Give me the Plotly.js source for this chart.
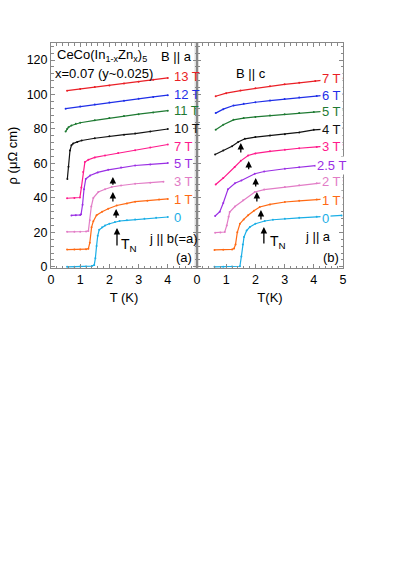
<!DOCTYPE html>
<html><head><meta charset="utf-8">
<script src="https://cdn.plot.ly/plotly-3.0.1.min.js"></script>
<style>html,body{margin:0;padding:0;background:#fff;}#plot{width:399px;height:564px;}</style>
</head><body><div id="plot"></div>
<script>
// ---------- Data: panel (a) B || a, j || b(=a) ----------
const fieldsA = ["0", "1 T", "3 T", "5 T", "7 T", "10 T", "11 T", "12 T", "13 T"];
const tA0  = [0.55,0.8,1.0,1.2,1.4,1.48,1.52,1.56,1.6,1.65,1.75,1.85,2.0,2.19,2.35,2.6,2.88,3.2,3.6,4.0];
const rA0  = [0,0,0.2,0.2,0.4,1,5,12,18,21.5,23,24,25,26,26.6,27,27.4,27.9,28.4,28.9];
const tA1  = [0.55,0.8,1.0,1.2,1.28,1.33,1.39,1.45,1.56,1.75,1.96,2.25,2.6,2.88,3.3,3.7,4.0];
const rA1  = [10,10,10.1,10.2,10.5,14,23,26.5,29.9,32,33.7,35.6,36.8,37.8,38.4,39,39.4];
const tA3  = [0.55,0.8,1.0,1.2,1.28,1.33,1.38,1.45,1.62,1.85,2.08,2.4,2.88,3.4,3.85];
const rA3  = [20.3,20.3,20.4,20.5,20.8,27,35,40,43.4,45,46.3,47.2,48.2,48.8,49.4];
const tA5  = [0.7,0.85,1.0,1.03,1.08,1.13,1.19,1.34,1.6,1.96,2.4,2.88,3.4,4.0];
const rA5  = [29.8,29.9,30.1,30.5,36,45,51,53,54.8,56.3,57.6,58.8,59.4,60.2];
const tA7  = [0.55,0.8,0.99,1.04,1.1,1.16,1.28,1.5,1.85,2.3,2.88,3.4,4.0];
const rA7  = [39.8,39.9,40.2,46,55,60.8,62.1,63.5,64.6,66,67.7,69.3,71];
const tA10 = [0.56,0.6,0.65,0.7,0.76,0.9,1.05,1.5,2.0,2.5,2.88,3.4,4.0];
const rA10 = [51,58,67.5,70.5,71.6,72.5,73.3,74.6,75.8,76.7,77.3,78.5,80];
const tA11 = [0.5,0.55,0.6,0.7,0.85,1.0,1.5,2.0,2.5,3.0,3.5,4.0];
const rA11 = [78.5,80,81,82,83,83.6,85,86.3,87.5,88.6,89.6,90.6];
const tA12 = [0.5,1.0,1.5,2.0,2.5,3.0,3.5,4.0];
const rA12 = [91.8,93,94.2,95.3,96.4,97.5,98.6,99.6];
const tA13 = [0.55,1.0,1.5,2.0,2.5,3.0,3.5,4.0];
const rA13 = [102.2,103.2,104.3,105.3,106.4,107.4,108.5,109.6];
const labelYA = [28.9,39.3,49.4,59.7,69.7,80,91,100.3,110.3];
// T_N arrows (a): T, tip, tail
const arrTA    = [2.26,2.23,2.12,2.12];
const arrTipA  = [22.5,33.5,43.4,52.1];
const arrTailA = [11.5,27.6,37.0,46.8];

// ---------- Data: panel (b) B || c, j || a ----------
const fieldsB = ["0", "1 T", "2 T", "2.5 T", "3 T", "4 T", "5 T", "6 T", "7 T"];
const tB0  = [0.6,0.9,1.2,1.47,1.52,1.57,1.61,1.7,1.81,2.0,2.32,2.6,3.01,3.5,4.1,4.5,4.95];
const rB0  = [0,0,0.1,0.3,6,13,17.3,21,23.1,25,26.6,27.3,27.9,28.4,29,29.4,29.8];
const tB1  = [0.6,0.9,1.2,1.27,1.32,1.38,1.47,1.6,1.75,1.95,2.15,2.5,3.01,3.5,4.1,4.5,4.95];
const rB1  = [9.8,9.9,10.1,10.6,13,20,25,27.5,29.9,32.5,34.7,36.2,37.6,38.3,39,39.5,40];
const tB2  = [0.62,0.8,0.95,1.02,1.08,1.12,1.3,1.58,1.98,2.3,3.01,3.5,4.1,4.95];
const rB2  = [19.8,19.9,20.2,24,29,31.8,35,38.6,43.4,44.8,46.3,47.3,48.5,50];
const tB25 = [0.62,0.78,0.9,1.06,1.3,1.52,1.98,2.3,3.01,3.5,4.05,4.95];
const rB25 = [29.5,32,37,45,48.5,50.1,54,55.3,56.9,57.8,58.7,60];
const tB3  = [0.64,0.9,1.29,1.5,1.75,2.0,2.5,3.01,3.5,4.1,4.95];
const rB3  = [47.8,51.5,57.9,61.5,64.6,65.8,67,68,68.8,69.6,70.8];
const tB4  = [0.62,0.9,1.2,1.41,1.64,2.0,2.5,3.01,3.5,4.0,4.95];
const rB4  = [65.2,67.5,70,72.4,74.3,75.3,76.2,76.9,78,79.5,80.5];
const tB5  = [0.64,0.9,1.25,1.6,2.0,2.5,3.0,3.5,4.0,4.95];
const rB5  = [79.5,82.5,85.3,86.3,87,87.8,88.5,89.2,89.8,91];
const tB6  = [0.64,0.9,1.25,1.6,2.0,2.5,3.0,3.5,4.1,4.95];
const rB6  = [89.2,91.5,93.6,94.6,95.5,96.5,97.4,98.2,99.2,100.5];
const tB7  = [0.64,1.0,1.49,2.0,2.5,3.0,3.5,4.05,4.95];
const rB7  = [99,100.8,102.3,103.6,104.8,105.9,106.8,107.8,109.5];
const labelYB = [28.1,38.4,49.6,59,69.7,79.8,90,99.7,109.4];
const arrTB    = [2.29,2.19,2.05,2.01,1.77,1.50];
const arrTipB  = [23.1,33,43.4,51.5,61.4,71.8];
const arrTailB = [12.7,26.6,37.0,45.7,55.8,65.4];

// ---------- Styling ----------
const colors = ["#1aaee6","#ff6a14","#e27cc6","#9a2fe4","#ff1a8c","#111111","#1e7a32","#1f2fe8","#ea1f26"];
const FONT = "Liberation Sans, Arial, sans-serif";
const W = 399, H = 564, ML = 51, MR = 56, MT = 43, MB = 296;
const PW = W - ML - MR, PH = H - MT - MB;
const px = x => (x - ML) / PW;
const py = y => (H - MB - y) / PH;

const seriesA = [[tA0,rA0],[tA1,rA1],[tA3,rA3],[tA5,rA5],[tA7,rA7],[tA10,rA10],[tA11,rA11],[tA12,rA12],[tA13,rA13]];
const seriesB = [[tB0,rB0],[tB1,rB1],[tB2,rB2],[tB25,rB25],[tB3,rB3],[tB4,rB4],[tB5,rB5],[tB6,rB6],[tB7,rB7]];

const traces = [];
seriesA.forEach((s,i) => traces.push({x:s[0], y:s[1], xaxis:'x', yaxis:'y', mode:'lines+markers',
  line:{color:colors[i], width:1.2}, marker:{color:colors[i], size:2}, name:'(a) '+fieldsA[i], showlegend:false, hoverinfo:'skip'}));
seriesB.forEach((s,i) => traces.push({x:s[0], y:s[1], xaxis:'x2', yaxis:'y2', mode:'lines+markers',
  line:{color:colors[i], width:1.2}, marker:{color:colors[i], size:2}, name:'(b) '+fieldsB[i], showlegend:false, hoverinfo:'skip'}));

const ann = [];
fieldsA.forEach((f,i) => ann.push({xref:'x', yref:'y', x:4.14, y:labelYA[i], text:f, showarrow:false,
  xanchor:'left', yanchor:'middle', font:{family:FONT, size:13, color:colors[i]}}));
const labelXB = [4.2,4.2,4.2,4.04,4.2,4.2,4.2,4.2,4.2];
fieldsB.forEach((f,i) => ann.push({xref:'x2', yref:'y2', x:labelXB[i], y:labelYB[i], text:f, showarrow:false,
  xanchor:'left', yanchor:'middle', bgcolor:'#ffffff', borderpad:1, font:{family:FONT, size:13, color:colors[i]}}));
arrTA.forEach((t,i) => ann.push({xref:'x', yref:'y', axref:'x', ayref:'y', x:t, y:arrTipA[i], ax:t, ay:arrTailA[i],
  text:'', showarrow:true, arrowhead:2, arrowsize:1.0, arrowwidth:1.3, arrowcolor:'#000', standoff:0, startstandoff:0}));
arrTB.forEach((t,i) => ann.push({xref:'x2', yref:'y2', axref:'x2', ayref:'y2', x:t, y:arrTipB[i], ax:t, ay:arrTailB[i],
  text:'', showarrow:true, arrowhead:2, arrowsize:1.0, arrowwidth:1.3, arrowcolor:'#000', standoff:0, startstandoff:0}));

const txt = (x,y,t,size) => ({xref:'paper', yref:'paper', x:px(x), y:py(y), text:t, showarrow:false,
  xanchor:'left', yanchor:'middle', font:{family:FONT, size:size||13, color:'#000'}});
ann.push(txt(55,55,'CeCo(In<sub>1-x</sub>Zn<sub>x</sub>)<sub>5</sub>',13));
ann.push(txt(53,73,'x=0.07 (y~0.025)',13));
ann.push(txt(159,57,'B || a',13));
ann.push(txt(147,238,'j || b(=a)',13));
ann.push(txt(174,257,'(a)',13));
ann.push(txt(119,245,'T<sub>N</sub>',14));
ann.push(txt(234,73,'B || c',13));
ann.push(txt(303,236,'j || a',13));
ann.push(txt(321,257,'(b)',13));
ann.push(txt(268,242,'T<sub>N</sub>',14));

const axBase = {ticks:'inside', ticklen:4, tickcolor:'#888', showline:true, linecolor:'#888', linewidth:1,
  mirror:'ticks', showgrid:false, zeroline:false, tickfont:{family:FONT, size:12.5, color:'#000'}};

const layout = {
  width:W, height:H, margin:{l:ML, r:MR, t:MT, b:MB}, paper_bgcolor:'#fff', plot_bgcolor:'rgba(0,0,0,0)',
  font:{family:FONT, color:'#000'},
  xaxis:Object.assign({}, axBase, {domain:[0, 146/PW], range:[0,5], tickvals:[0,1,2,3,4], anchor:'y',
    minor:{dtick:0.2, ticks:'inside', ticklen:2.5, tickcolor:'#888'},
    title:{text:'T (K)', font:{family:FONT, size:13}, standoff:6}}),
  yaxis:Object.assign({}, axBase, {domain:[0,1], range:[-0.7,129.9], dtick:20, anchor:'x',
    minor:{dtick:4, ticks:'inside', ticklen:2.5, tickcolor:'#888'},
    title:{text:'ρ (μΩ cm)', font:{family:FONT, size:13}, standoff:6}}),
  xaxis2:Object.assign({}, axBase, {domain:[146/PW, 1], range:[0,5], dtick:1, anchor:'y2',
    minor:{dtick:0.2, ticks:'inside', ticklen:2.5, tickcolor:'#888'},
    title:{text:'T(K)', font:{family:FONT, size:13}, standoff:6}}),
  yaxis2:Object.assign({}, axBase, {domain:[0,1], range:[-0.7,129.9], dtick:20, anchor:'x2', showticklabels:false,
    minor:{dtick:4, ticks:'inside', ticklen:2.5, tickcolor:'#888'}}),
  shapes:[{type:'rect', xref:'paper', yref:'paper', x0:px(194.5), x1:px(199), y0:0, y1:1,
    fillcolor:'#dedede', line:{width:0}, layer:'below'}],
  annotations:ann
};
Plotly.newPlot('plot', traces, layout, {staticPlot:true, displayModeBar:false});
</script></body></html>
